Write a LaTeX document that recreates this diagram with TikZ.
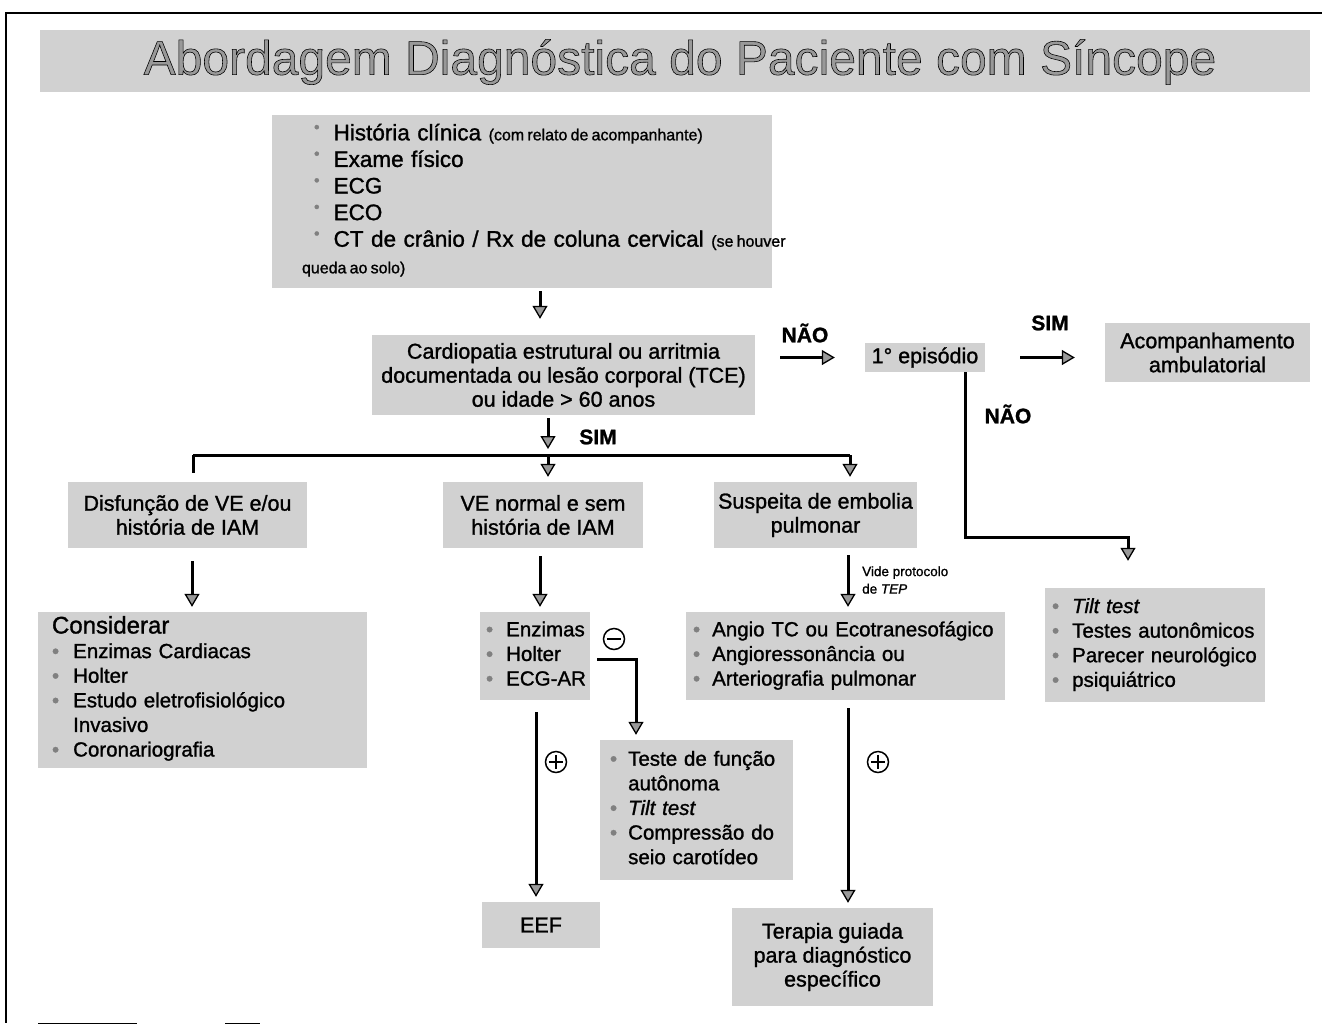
\documentclass[tikz,border=0pt]{standalone}
\usepackage{fontspec}
\setmainfont{Liberation Sans}[RawFeature={embolden=1.2}]
\usetikzlibrary{arrows.meta,calc}
\definecolor{boxgray}{gray}{0.82}
\definecolor{bulgray}{gray}{0.5}
\definecolor{arrgray}{gray}{0.6}
\definecolor{titlegray}{gray}{0.6}
\newcommand{\myBody}{\fontsize{21.5}{24}\selectfont}
\newcommand{\myList}{\fontsize{20.5}{24.6}\selectfont}
\newcommand{\mySmall}{\fontsize{16}{18}\selectfont\spaceskip=0.2em plus 0.05em\relax}
\newcommand{\myLab}{\fontsize{21}{24}\selectfont\bfseries}
\newcommand{\bl}{\textcolor{bulgray}{•}}
\newcommand{\tbl}{\raisebox{0.35em}{\fontsize{16}{16}\selectfont\textcolor{bulgray}{•}}}
\newcommand{\outl}[1]{\special{pdf:literal direct 0 G 1.3 w 2 Tr}#1\special{pdf:literal direct 0 Tr}}
\begin{document}
\begin{tikzpicture}[x=1pt,y=-1pt,
  box/.style={fill=boxgray, draw=none, inner sep=0pt, font=\myBody, align=center},
  lbox/.style={fill=boxgray, draw=none, inner ysep=0pt, font=\myList, align=left},
  arr/.style={line width=3pt, -{Triangle[width=15pt,length=13pt,fill=arrgray,line width=1.3pt]}},
  ln/.style={line width=3pt},
  lab/.style={font=\myLab, inner sep=0pt},
  pm/.style={circle, draw, line width=1.5pt, minimum size=21pt, inner sep=0pt},
  frame/.style={line width=2.2pt}]
\useasboundingbox (0,0) rectangle (1322,1026);
% frame
\coordinate (f1) at (1322,13);
\coordinate (f2) at (6,13);
\coordinate (f3) at (6,1023);
\draw[frame] (f1) -- (f2) -- (f3);
\coordinate (f4) at (38,1023); \coordinate (f5) at (137,1023);
\coordinate (f6) at (225,1023); \coordinate (f7) at (260,1023);
\draw[line width=1pt] (f4) -- (f5);
\draw[line width=1pt] (f6) -- (f7);
% title
\node[fill=boxgray, minimum width=1270, minimum height=62, inner sep=0pt] (title) at (675,61) {};
\node[inner sep=0pt, font=\fontsize{48}{50}\selectfont, text=titlegray] (titletext) at (680,62) {\outl{Abordagem Diagnóstica do Paciente com Síncope}};
% top box
\node[lbox, minimum height=173, text width=440, inner xsep=30, font=\fontsize{22.5}{26.6}\selectfont] (top) at (522,201.5) {%
\begin{tabular}{@{\hspace{12pt}}l@{\hspace{14pt}}l@{}}
\tbl & História clínica {\mySmall (com relato de acompanhante)}\\
\tbl & Exame físico\\
\tbl & ECG\\
\tbl & ECO\\
\tbl & CT de crânio / Rx de coluna cervical {\mySmall (se houver}\\
\multicolumn{2}{@{}l}{\mySmall queda ao solo)}
\end{tabular}};
% cardio
\node[box, minimum width=383, minimum height=80] (cardio) at (563.5,375)
  {Cardiopatia estrutural ou arritmia\\documentada ou lesão corporal (TCE)\\ou idade > 60 anos};
\node[box, minimum width=120, minimum height=29] (ep1) at (925,357.5) {1° episódio};
\node[box, minimum width=205, minimum height=59] (acomp) at (1207.5,352.5) {Acompanhamento\\ambulatorial};
% second row
\node[box, minimum width=239, minimum height=66] (dis) at (187.5,515) {Disfunção de VE e/ou\\história de IAM};
\node[box, minimum width=200, minimum height=66] (ven) at (543,515) {VE normal e sem\\história de IAM};
\node[box, minimum width=203, minimum height=66] (sus) at (815.5,515) {Suspeita de embolia\\pulmonar};
% considerar
\node[lbox, minimum height=156, text width=301, inner xsep=14] (cons) at (202.5,690) {%
\begin{tabular}{@{}l@{\hspace{14pt}}l@{}}
\multicolumn{2}{@{}l}{\fontsize{24}{26}\selectfont Considerar}\\
\bl & Enzimas Cardiacas\\
\bl & Holter\\
\bl & Estudo eletrofisiológico\\
 & Invasivo\\
\bl & Coronariografia
\end{tabular}};
% enzimas
\node[lbox, minimum height=88, text width=98, inner xsep=6] (enz) at (535,656) {%
\begin{tabular}{@{}l@{\hspace{13pt}}l@{}}
\bl & Enzimas\\
\bl & Holter\\
\bl & ECG-AR
\end{tabular}};
% teste
\node[lbox, minimum height=140, text width=181, inner xsep=6] (teste) at (696.5,810) {%
\begin{tabular}{@{\hspace{4pt}}l@{\hspace{11pt}}l@{}}
\bl & Teste de função\\
 & autônoma\\
\bl & \textit{Tilt test}\\
\bl & Compressão do\\
 & seio carotídeo
\end{tabular}};
\node[box, minimum width=118, minimum height=46] (eef) at (541,925) {EEF};
% angio
\node[lbox, minimum height=88, text width=305, inner xsep=7] (angio) at (845.5,656) {%
\begin{tabular}{@{}l@{\hspace{12pt}}l@{}}
\bl & Angio TC ou Ecotranesofágico\\
\bl & Angioressonância ou\\
\bl & Arteriografia pulmonar
\end{tabular}};
\node[box, minimum width=201, minimum height=98] (ter) at (832.5,957) {Terapia guiada\\para diagnóstico\\específico};
% tilt
\node[lbox, minimum height=114, text width=206, inner xsep=7] (tilt) at (1155,645) {%
\begin{tabular}{@{}l@{\hspace{13pt}}l@{}}
\bl & \textit{Tilt test}\\
\bl & Testes autonômicos\\
\bl & Parecer neurológico\\
\bl & psiquiátrico
\end{tabular}};
% labels
\node[lab] (nao1) at (805,333) {NÃO};
\node[lab] (sim1) at (1050,323) {SIM};
\node[lab] (nao2) at (1008,414) {NÃO};
\node[lab] (sim2) at (598,437) {SIM};
\node[inner sep=0pt, anchor=west, align=left, font=\fontsize{13.5}{17.5}\selectfont] (vide) at (862,580) {Vide protocolo\\de \textit{TEP}};
\node[pm] (minus) at (614,639) {};
\draw[line width=1.5pt] ([xshift=4pt]minus.west) -- ([xshift=-4pt]minus.east);
\node[pm] (plus1) at (556,762) {};
\draw[line width=1.5pt] ([xshift=4pt]plus1.west) -- ([xshift=-4pt]plus1.east);
\draw[line width=1.5pt] ([yshift=-4pt]plus1.north) -- ([yshift=4pt]plus1.south);
\node[pm] (plus2) at (878,762) {};
\draw[line width=1.5pt] ([xshift=4pt]plus2.west) -- ([xshift=-4pt]plus2.east);
\draw[line width=1.5pt] ([yshift=-4pt]plus2.north) -- ([yshift=4pt]plus2.south);
% connectors
\draw[arr, shorten <=3pt, shorten >=16pt] (540,0 |- top.south) -- (540,0 |- cardio.north);
\draw[arr, shorten <=25pt, shorten >=30pt] (cardio.east |- ep1.west) -- (ep1.west);
\draw[arr, shorten <=35pt, shorten >=30pt] (ep1.east) -- (acomp.west |- ep1.east);
\coordinate (b1) at (965,537);
\draw[arr, shorten >=27pt] (965,0 |- ep1.south) -- (b1) -| (1128,0 |- tilt.north);
% SIM branches
\coordinate (hb) at (548,455);
\coordinate (hl) at (193,455);
\coordinate (hr) at (850,455);
\draw[arr, shorten <=3pt, shorten >=6pt] (548,0 |- cardio.south) -- (hb);
\draw[ln] (hl) -- (hr);
\draw[ln, shorten >=9pt] (hl) -- (193,0 |- dis.north);
\draw[arr, shorten >=5pt] (hb) -- (548,0 |- ven.north);
\draw[arr, shorten >=5pt] (hr) -- (850,0 |- sus.north);
% lower
\draw[arr, shorten <=13pt, shorten >=5pt] (192,0 |- dis.south) -- (192,0 |- cons.north);
\draw[arr, shorten <=8pt, shorten >=5pt] (540,0 |- ven.south) -- (540,0 |- enz.north);
\coordinate (m1) at (636,659);
\draw[arr, shorten <=7pt, shorten >=5pt] (enz.east |- m1) -- (m1) -- (m1 |- teste.north);
\draw[arr, shorten <=12pt, shorten >=5pt] (536,0 |- enz.south) -- (536,0 |- eef.north);
\draw[arr, shorten <=7pt, shorten >=5pt] (848,0 |- sus.south) -- (848,0 |- angio.north);
\draw[arr, shorten <=8pt, shorten >=5pt] (848,0 |- angio.south) -- (848,0 |- ter.north);
\end{tikzpicture}
\end{document}
